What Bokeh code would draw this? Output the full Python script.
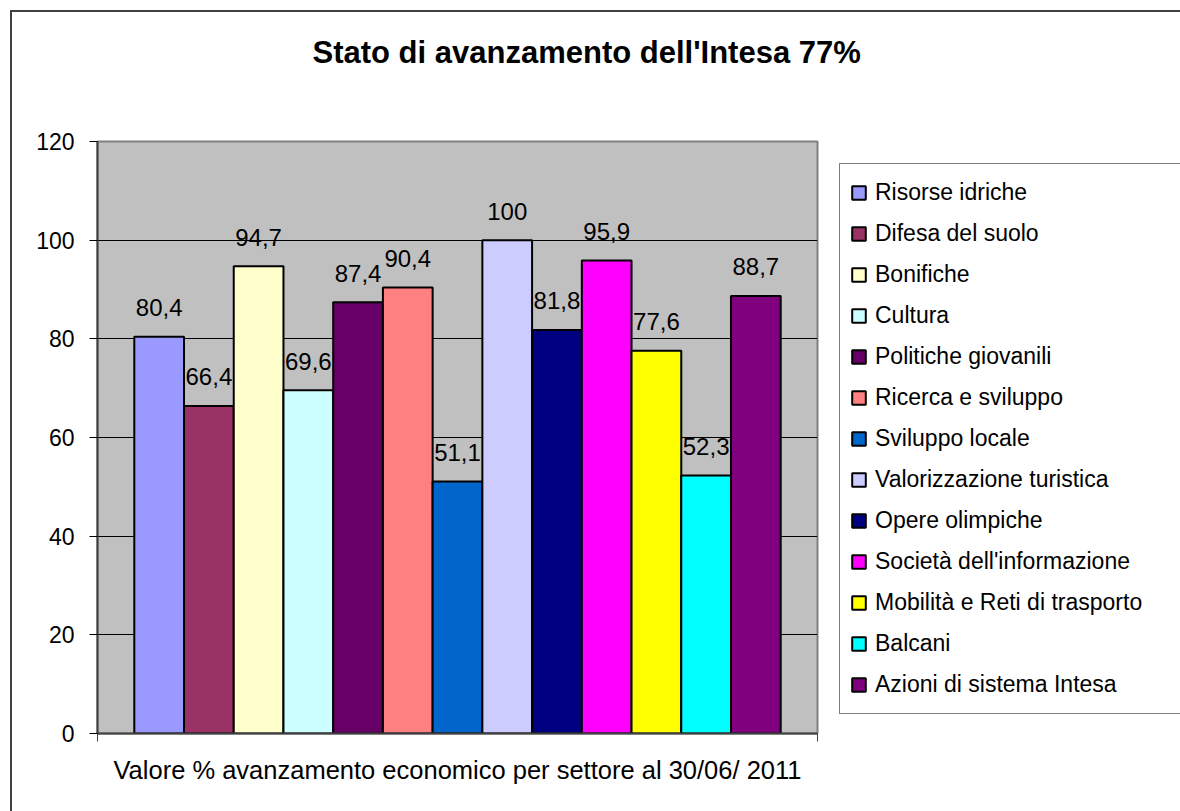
from bokeh.plotting import figure
from bokeh.models import (Range1d, FixedTicker, Legend, LegendItem, ColumnDataSource, Title)
from bokeh.core.properties import value
from bokeh.embed import file_html
from bokeh.resources import INLINE

categories = ["Risorse idriche", "Difesa del suolo", "Bonifiche", "Cultura",
              "Politiche giovanili", "Ricerca e sviluppo", "Sviluppo locale",
              "Valorizzazione turistica", "Opere olimpiche", "Società dell'informazione",
              "Mobilità e Reti di trasporto", "Balcani", "Azioni di sistema Intesa"]
values = [80.4, 66.4, 94.7, 69.6, 87.4, 90.4, 51.1, 100, 81.8, 95.9, 77.6, 52.3, 88.7]
colors = ["#9999FF", "#993366", "#FFFFCC", "#CCFFFF", "#660066", "#FF8080", "#0066CC",
          "#CCCCFF", "#000080", "#FF00FF", "#FFFF00", "#00FFFF", "#800080"]
y_ticks = [0, 20, 40, 60, 80, 100, 120]
title_text = "Stato di avanzamento dell'Intesa 77%"
x_label = "Valore % avanzamento economico per settore al 30/06/ 2011"


def fmt(v):
    s = ("%.1f" % v).replace(".", ",")
    return s[:-2] if s.endswith(",0") else s


labels = [fmt(v) for v in values]
xs = list(range(len(categories)))
x_lo, x_hi = -1.24, 13.24

src = ColumnDataSource(dict(x=xs, top=values, color=colors, label=labels))

FONT = "Liberation Sans"

p = figure(frame_width=720, frame_height=592,
           x_range=Range1d(x_lo, x_hi), y_range=Range1d(0, 120),
           output_backend="svg", toolbar_location=None,
           min_border_left=97, min_border_right=0, min_border_top=141,
           min_border_bottom=78)
# outer chart-area border (left and top edges)
p.styles = {
    "background-color": "white",
    "background-image": "linear-gradient(#404040, #404040), linear-gradient(#404040, #404040)",
    "background-size": "2px 100%, 100% 2px",
    "background-position": "10px 10px, 10px 10px",
    "background-repeat": "no-repeat",
}
p.background_fill_color = "#C0C0C0"
p.border_fill_color = None
p.outline_line_color = "#808080"
p.outline_line_width = 2

p.title = Title(text=title_text, align="left", offset=215, standoff=0,
                vertical_align="bottom",
                text_font=FONT, text_font_size="31px", text_font_style="bold",
                text_color="black")
# spacer between title and plot frame
p.add_layout(Title(text=" ", text_font_size="2px", standoff=68), "above")

r = p.vbar(x="x", top="top", width=1, fill_color="color", line_color="black",
           line_width=2, source=src)
p.text(x="x", y="top", text="label", text_align="center", text_baseline="alphabetic",
       y_offset=-29, text_font=value(FONT), text_font_size="24px", text_color="black",
       source=src)

p.xgrid.visible = False
p.ygrid.grid_line_color = "black"
p.ygrid.grid_line_width = 1
p.ygrid.ticker = FixedTicker(ticks=y_ticks)

ya = p.yaxis[0]
ya.ticker = FixedTicker(ticks=y_ticks)
ya.major_tick_out = 8
ya.major_tick_in = 0
ya.minor_tick_out = 0
ya.minor_tick_in = 0
ya.axis_line_color = "#404040"
ya.axis_line_width = 2
ya.major_tick_line_color = "black"
ya.major_label_text_font = FONT
ya.major_label_text_font_size = "23px"
ya.major_label_text_color = "black"
ya.major_label_standoff = 15

xa = p.xaxis[0]
# category-boundary tick marks only (no tick labels)
xa.ticker = FixedTicker(ticks=[], minor_ticks=[x_lo, x_hi])
xa.major_tick_out = 8
xa.major_tick_in = 0
xa.minor_tick_out = 8
xa.minor_tick_in = 0
xa.minor_tick_line_color = "#404040"
xa.minor_tick_line_width = 1
xa.axis_line_color = "#404040"
xa.axis_line_width = 2
xa.axis_label = x_label
xa.axis_label_text_font = FONT
xa.axis_label_text_font_size = "25.5px"
xa.axis_label_text_font_style = "normal"
xa.axis_label_text_color = "black"
xa.axis_label_standoff = 14

legend = Legend(items=[LegendItem(label=c, renderers=[r], index=i)
                       for i, c in enumerate(categories)],
                location="top_left", orientation="vertical",
                glyph_width=17, glyph_height=17, label_height=37, spacing=4,
                padding=10, margin=22, label_standoff=8, label_width=320,
                label_text_font=FONT, label_text_font_size="23px",
                label_text_color="black", border_line_color="black",
                border_line_width=1, background_fill_color="white",
                background_fill_alpha=1)
p.add_layout(legend, "right")

open("out.html", "w").write(file_html(p, INLINE))
